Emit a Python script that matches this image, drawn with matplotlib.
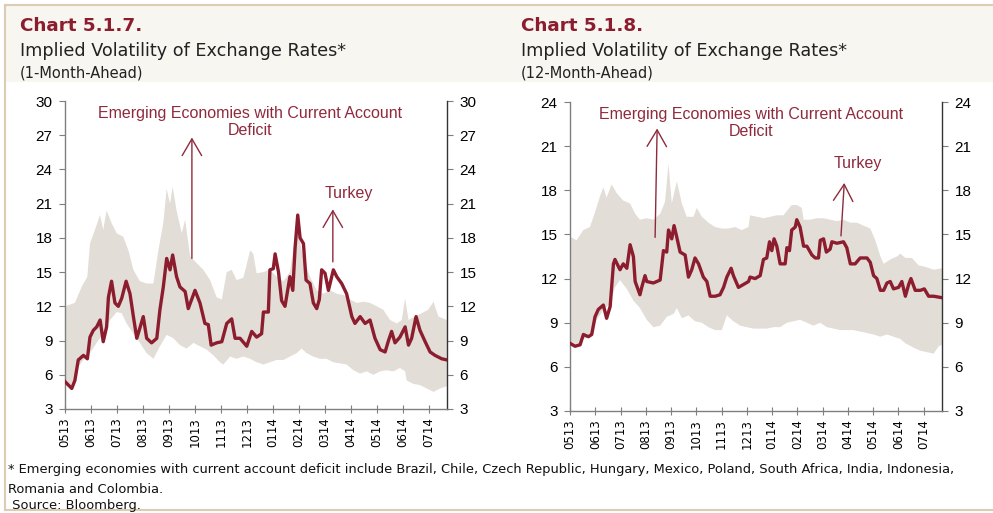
import matplotlib
matplotlib.use("Agg")
import matplotlib.pyplot as plt
from matplotlib.patches import Rectangle
from matplotlib.lines import Line2D

# ---------------- data (x in months since May 2013) ----------------
month_labels = ['0513', '0613', '0713', '0813', '0913', '1013', '1113', '1213',
                '0114', '0214', '0314', '0414', '0514', '0614', '0714']

# Chart 5.1.7 (1-month-ahead)
l_line_x = [0.00, 0.13, 0.26, 0.38, 0.51, 0.71, 0.86, 0.96, 1.09, 1.22, 1.35, 1.47, 1.60, 1.67, 1.79,
            1.92, 2.05, 2.18, 2.35, 2.50, 2.63, 2.76, 2.88, 3.01, 3.14, 3.33, 3.53, 3.65, 3.78, 3.91,
            4.04, 4.14, 4.29, 4.42, 4.62, 4.74, 5.00, 5.19, 5.38, 5.51, 5.62, 5.83, 6.03, 6.22, 6.41,
            6.54, 6.73, 6.99, 7.18, 7.37, 7.56, 7.63, 7.82, 7.88, 8.01, 8.08, 8.21, 8.33, 8.46, 8.65,
            8.76, 8.85, 8.95, 9.04, 9.17, 9.27, 9.42, 9.55, 9.68, 9.78, 9.87, 10.00, 10.13, 10.32,
            10.45, 10.64, 10.83, 11.03, 11.15, 11.35, 11.54, 11.73, 11.92, 12.12, 12.31, 12.44,
            12.56, 12.69, 12.88, 13.08, 13.21, 13.33, 13.50, 13.65, 13.85, 14.04, 14.23, 14.49, 14.69]
l_line_y = [5.4, 5.1, 4.8, 5.5, 7.3, 7.7, 7.4, 9.3, 9.9, 10.2, 10.8, 8.9, 10.2, 12.8, 14.2,
            12.3, 12.0, 12.7, 14.2, 13.1, 11.1, 9.2, 10.1, 11.1, 9.2, 8.8, 9.2, 11.7, 13.7, 16.2,
            15.2, 16.5, 14.6, 13.7, 13.3, 11.8, 13.4, 12.3, 10.5, 10.4, 8.6, 8.8, 8.9, 10.5, 10.9,
            9.2, 9.2, 8.5, 9.8, 9.3, 9.6, 11.5, 11.5, 15.2, 15.3, 16.6, 15.0, 12.5, 12.0, 14.6,
            13.4, 17.2, 20.0, 18.0, 17.5, 14.3, 14.0, 12.3, 11.8, 12.6, 15.2, 14.9, 13.4, 15.2,
            14.6, 14.0, 13.1, 11.1, 10.5, 11.1, 10.5, 10.8, 9.2, 8.2, 8.0, 9.0,
            9.8, 8.8, 9.3, 10.2, 8.6, 9.2, 11.1, 9.9, 8.9, 8.0, 7.7, 7.4, 7.3]

l_up_x = [0.00, 0.38, 0.64, 0.86, 0.96, 1.15, 1.35, 1.47, 1.60, 1.79, 1.99, 2.24, 2.44, 2.63, 2.88,
          3.14, 3.40, 3.59, 3.78, 3.91, 4.04, 4.14, 4.29, 4.49, 4.62, 4.81, 5.06, 5.32, 5.58, 5.83,
          6.03, 6.22, 6.41, 6.60, 6.86, 7.12, 7.24, 7.37, 7.63, 7.88, 8.14, 8.40, 8.65, 8.85, 8.97,
          9.17, 9.42, 9.68, 9.94, 10.19, 10.45, 10.71, 10.96, 11.22, 11.47, 11.73, 11.99, 12.24,
          12.50, 12.76, 12.95, 13.08, 13.21, 13.46, 13.72, 13.97, 14.17, 14.36, 14.69]
l_up_y = [12.0, 12.3, 13.7, 14.6, 17.5, 18.7, 20.0, 18.7, 20.4, 19.3, 18.4, 18.1, 16.9, 15.2, 14.2,
          14.0, 14.0, 16.9, 19.3, 22.3, 21.0, 22.5, 20.4, 18.4, 19.6, 16.4, 15.8, 15.2, 14.3, 12.8,
          12.6, 15.0, 15.2, 14.3, 14.5, 16.9, 16.6, 14.9, 15.0, 15.2, 14.6, 14.2, 15.0, 18.1, 18.4,
          16.2, 14.6, 13.4, 13.1, 13.4, 13.1, 13.0, 12.6, 12.3, 12.4, 12.3, 12.0, 11.7,
          10.8, 10.5, 10.8, 12.7, 10.8, 11.1, 11.4, 11.7, 12.4, 11.1, 10.8]

l_lo_x = [0.00, 0.26, 0.51, 0.71, 0.96, 1.22, 1.47, 1.73, 1.99, 2.18, 2.37, 2.63, 2.88, 3.14, 3.40,
          3.65, 3.91, 4.17, 4.42, 4.68, 4.94, 5.19, 5.45, 5.71, 5.96, 6.09, 6.35, 6.60, 6.86, 7.12,
          7.37, 7.63, 7.88, 8.14, 8.40, 8.65, 8.91, 9.10, 9.29, 9.55, 9.81, 10.06, 10.32, 10.58,
          10.83, 11.09, 11.35, 11.60, 11.86, 12.12, 12.37, 12.63, 12.88, 13.08, 13.14, 13.40,
          13.65, 13.91, 14.17, 14.42, 14.69]
l_lo_y = [5.2, 4.7, 6.7, 7.3, 7.9, 8.8, 9.6, 10.8, 11.5, 11.4, 10.5, 9.6, 8.8, 7.9, 7.4,
          8.5, 9.5, 9.2, 8.6, 8.3, 8.8, 8.5, 8.2, 7.7, 7.1, 6.9, 7.6, 7.4, 7.6, 7.4,
          7.1, 6.9, 7.1, 7.3, 7.3, 7.6, 7.9, 8.3, 7.9, 7.6, 7.4, 7.4, 7.1, 7.0,
          6.9, 6.4, 6.1, 6.3, 6.0, 6.3, 6.4, 6.3, 6.6, 6.3, 5.5, 5.2,
          5.1, 4.8, 4.5, 4.8, 5.0]

# Chart 5.1.8 (12-month-ahead)
r_line_x = [0.00, 0.20, 0.40, 0.53, 0.73, 0.86, 0.99, 1.12, 1.32, 1.45, 1.59, 1.72, 1.78, 1.98, 2.11,
            2.25, 2.38, 2.51, 2.58, 2.77, 2.84, 2.97, 3.04, 3.30, 3.57, 3.70, 3.83, 3.90, 4.03, 4.12,
            4.23, 4.36, 4.56, 4.69, 4.82, 4.95, 5.09, 5.28, 5.42, 5.55, 5.75, 5.94, 6.08, 6.21, 6.38,
            6.47, 6.67, 6.87, 7.07, 7.13, 7.33, 7.53, 7.66, 7.79, 7.90, 7.99, 8.08, 8.19, 8.32, 8.52,
            8.59, 8.69, 8.78, 8.92, 8.98, 9.11, 9.25, 9.38, 9.58, 9.71, 9.84, 9.91, 10.04, 10.15,
            10.30, 10.37, 10.57, 10.83, 10.96, 11.10, 11.29, 11.49, 11.76, 11.89, 12.02, 12.15,
            12.29, 12.42, 12.55, 12.68, 12.81, 13.01, 13.14, 13.28, 13.41, 13.50, 13.67, 13.87,
            14.03, 14.20, 14.40, 14.73]
r_line_y = [7.6, 7.4, 7.5, 8.2, 8.05, 8.2, 9.4, 9.9, 10.2, 9.3, 10.1, 13.0, 13.3, 12.6, 13.0,
            12.7, 14.3, 13.5, 11.8, 10.9, 11.4, 12.2, 11.8, 11.7, 11.9, 13.9, 13.8, 15.3, 14.7, 15.6,
            14.8, 13.8, 13.6, 12.1, 12.6, 13.4, 13.0, 12.1, 11.8, 10.8, 10.8, 10.9, 11.4, 12.1, 12.7,
            12.2, 11.4, 11.6, 11.8, 12.1, 12.0, 12.2, 13.3, 13.4, 14.5, 13.9, 14.7, 14.2, 13.0, 13.0,
            14.1, 13.9, 15.3, 15.5, 16.0, 15.5, 14.2, 14.2, 13.6, 13.4, 13.4, 14.6, 14.7, 13.8,
            14.0, 14.5, 14.4, 14.5, 14.1, 13.0, 13.0, 13.4, 13.4, 13.1, 12.2, 12.0,
            11.2, 11.2, 11.7, 11.8, 11.3, 11.4, 11.8, 10.8, 11.6, 12.0, 11.2, 11.2,
            11.3, 10.8, 10.8, 10.7]

r_up_x = [0.00, 0.26, 0.53, 0.79, 0.99, 1.19, 1.32, 1.45, 1.65, 1.85, 2.11, 2.38, 2.58, 2.77, 3.04,
          3.30, 3.57, 3.76, 3.90, 4.03, 4.23, 4.43, 4.62, 4.89, 5.02, 5.22, 5.48, 5.75, 6.01, 6.27,
          6.54, 6.80, 7.07, 7.13, 7.40, 7.66, 7.93, 8.19, 8.45, 8.78, 8.98, 9.18, 9.25, 9.51, 9.78,
          10.04, 10.30, 10.57, 10.83, 11.10, 11.36, 11.62, 11.89, 12.09, 12.29, 12.42, 12.68,
          12.95, 13.08, 13.28, 13.54, 13.80, 14.06, 14.40, 14.73]
r_up_y = [14.85, 14.6, 15.3, 15.5, 16.5, 17.6, 18.2, 17.5, 18.4, 17.8, 17.3, 17.1, 16.4, 16.0, 16.1,
          16.0, 16.4, 17.2, 19.8, 17.1, 18.6, 17.1, 16.2, 16.2, 16.8, 16.2, 15.8, 15.5, 15.4, 15.4,
          15.5, 15.3, 15.5, 16.3, 16.2, 16.1, 16.2, 16.3, 16.3, 17.0, 17.0, 16.8, 16.0, 16.0, 16.1,
          16.1, 16.0, 15.9, 16.0, 15.8, 15.8, 15.6, 15.4, 14.6, 13.5, 13.0, 13.3,
          13.5, 13.7, 13.4, 13.4, 12.9, 12.8, 12.6, 12.7]

r_lo_x = [0.00, 0.26, 0.53, 0.79, 1.06, 1.32, 1.59, 1.78, 1.98, 2.25, 2.51, 2.77, 3.04, 3.30, 3.57,
          3.83, 4.10, 4.23, 4.43, 4.69, 4.95, 5.22, 5.48, 5.75, 6.01, 6.21, 6.47, 6.74, 7.00, 7.27,
          7.53, 7.79, 8.06, 8.32, 8.59, 8.85, 9.11, 9.38, 9.64, 9.91, 10.17, 10.44, 10.70, 10.96,
          11.23, 11.49, 11.76, 12.02, 12.29, 12.55, 12.81, 13.08, 13.28, 13.61, 13.87, 14.13,
          14.40, 14.60, 14.73]
r_lo_y = [7.6, 7.4, 7.9, 8.05, 9.2, 9.9, 10.3, 11.4, 11.9, 11.3, 10.5, 10.0, 9.2, 8.7, 8.8,
          9.4, 9.6, 10.0, 9.3, 9.5, 9.1, 9.0, 8.7, 8.5, 8.5, 9.5, 9.1, 8.8, 8.7, 8.6,
          8.6, 8.6, 8.7, 8.7, 9.0, 9.1, 9.2, 9.0, 8.8, 9.0, 8.7, 8.6, 8.5, 8.5,
          8.5, 8.4, 8.3, 8.2, 8.05, 8.2, 8.05, 7.9, 7.6, 7.3, 7.1, 7.0,
          6.9, 7.4, 7.5]

# ---------------- style ----------------
RED = '#8c1d2e'
ANN = '#8f2a3c'
BAND = '#e2ddd6'
BORDER = '#d9cdb4'
HEADER = '#f7f6f1'
SPINE = '#7f7f7f'

W, H = 993, 513
fig = plt.figure(figsize=(W / 100, H / 100), dpi=100)
fig.patch.set_facecolor('white')

# header background and frame lines
fig.add_artist(Rectangle((5 / W, 1 - 82 / H), 1 - 5 / W, 77 / H, transform=fig.transFigure,
                         facecolor=HEADER, edgecolor='none', zorder=0))
fig.add_artist(Line2D([5 / W, 1], [1 - 5 / H, 1 - 5 / H], transform=fig.transFigure, color=BORDER, lw=1.5))
fig.add_artist(Line2D([5 / W, 5 / W], [1 - 5 / H, 1 - 510 / H], transform=fig.transFigure, color=BORDER, lw=1.5))
fig.add_artist(Line2D([5 / W, 1], [1 - 510 / H, 1 - 510 / H], transform=fig.transFigure, color=BORDER, lw=1.5))

TICKFONT = ['Liberation Sans', 'DejaVu Sans']
GOTH = ['DejaVu Sans']

def header(x, title, sub1, sub2):
    fig.text(x / W, 1 - 31 / H, title, fontsize=13.2, fontweight='bold', color=RED, family=GOTH)
    fig.text(x / W, 1 - 56 / H, sub1, fontsize=12.7, color='#222222', family=GOTH)
    fig.text(x / W, 1 - 78 / H, sub2, fontsize=10.5, color='#222222', family=GOTH)

header(20, 'Chart 5.1.7.', 'Implied Volatility of Exchange Rates*', '(1-Month-Ahead)')
header(521, 'Chart 5.1.8.', 'Implied Volatility of Exchange Rates*', '(12-Month-Ahead)')

def make_panel(rect, ymax, lx, ly, ux, uy, dx, dy, xend):
    ax = fig.add_axes(rect)
    ax.fill(list(ux) + list(dx[::-1]), list(uy) + list(dy[::-1]), color=BAND, lw=0, zorder=1)
    ax.plot(lx, ly, color=RED, lw=2.4, zorder=3, solid_joinstyle='round')
    ax.set_xlim(0, xend)
    ax.set_ylim(3, ymax)
    ax.set_yticks(range(3, ymax + 1, 3))
    ax.set_xticks(range(len(month_labels)))
    ax.set_xticklabels(month_labels, rotation=90, fontsize=8.5, family=GOTH)
    ax.tick_params(axis='y', labelsize=11, length=4, color=SPINE, right=True, labelright=True, pad=5)
    for lab in ax.get_yticklabels():
        lab.set_family(TICKFONT)
    ax.tick_params(axis='x', length=6, direction='inout', color=SPINE, pad=3)
    ax.spines['top'].set_visible(False)
    for s in ('left', 'right', 'bottom'):
        ax.spines[s].set_color(SPINE)
        ax.spines[s].set_linewidth(1.0)
    ax.spines['right'].set_color('#333333')
    ax.set_facecolor('none')
    return ax

axL = make_panel([65 / W, 1 - 409 / H, 382 / W, 308 / H], 30,
                 l_line_x, l_line_y, l_up_x, l_up_y, l_lo_x, l_lo_y, 14.69)
axR = make_panel([570 / W, 1 - 411 / H, 372 / W, 309 / H], 24,
                 r_line_x, r_line_y, r_up_x, r_up_y, r_lo_x, r_lo_y, 14.73)

ap = dict(arrowstyle='->,head_length=0.6,head_width=0.35', color=ANN, lw=1.0,
          mutation_scale=20, shrinkA=0, shrinkB=0)
annfont = dict(fontsize=11.5, color=ANN, family=TICKFONT, ha='center', linespacing=1.2)

# Left panel annotations
axL.text(0.484, 0.985, 'Emerging Economies with Current Account\nDeficit', transform=axL.transAxes,
         va='top', **annfont)
axL.annotate('', xy=(4.88, 26.8), xytext=(4.88, 16.2), arrowprops=ap)
axL.text(10.92, 21.9, 'Turkey', va='center', **annfont)
axL.annotate('', xy=(10.3, 20.5), xytext=(10.3, 15.9), arrowprops=ap)

# Right panel annotations
axR.text(0.487, 0.985, 'Emerging Economies with Current Account\nDeficit', transform=axR.transAxes,
         va='top', **annfont)
axR.annotate('', xy=(3.45, 22.2), xytext=(3.37, 14.8), arrowprops=ap)
axR.text(11.4, 19.85, 'Turkey', va='center', **annfont)
axR.annotate('', xy=(10.86, 18.5), xytext=(10.73, 14.9), arrowprops=ap)

# Footnote
FOOT = dict(fontsize=9.4, color='#111111', family=GOTH)
fig.text(8 / W, 1 - 473 / H,
         '* Emerging economies with current account deficit include Brazil, Chile, Czech Republic, Hungary, '
         'Mexico, Poland, South Africa, India, Indonesia,', **FOOT)
fig.text(8 / W, 1 - 493 / H, 'Romania and Colombia.', **FOOT)
fig.text(8 / W, 1 - 509 / H, ' Source: Bloomberg.', **FOOT)

fig.savefig('out.png', dpi=100)
